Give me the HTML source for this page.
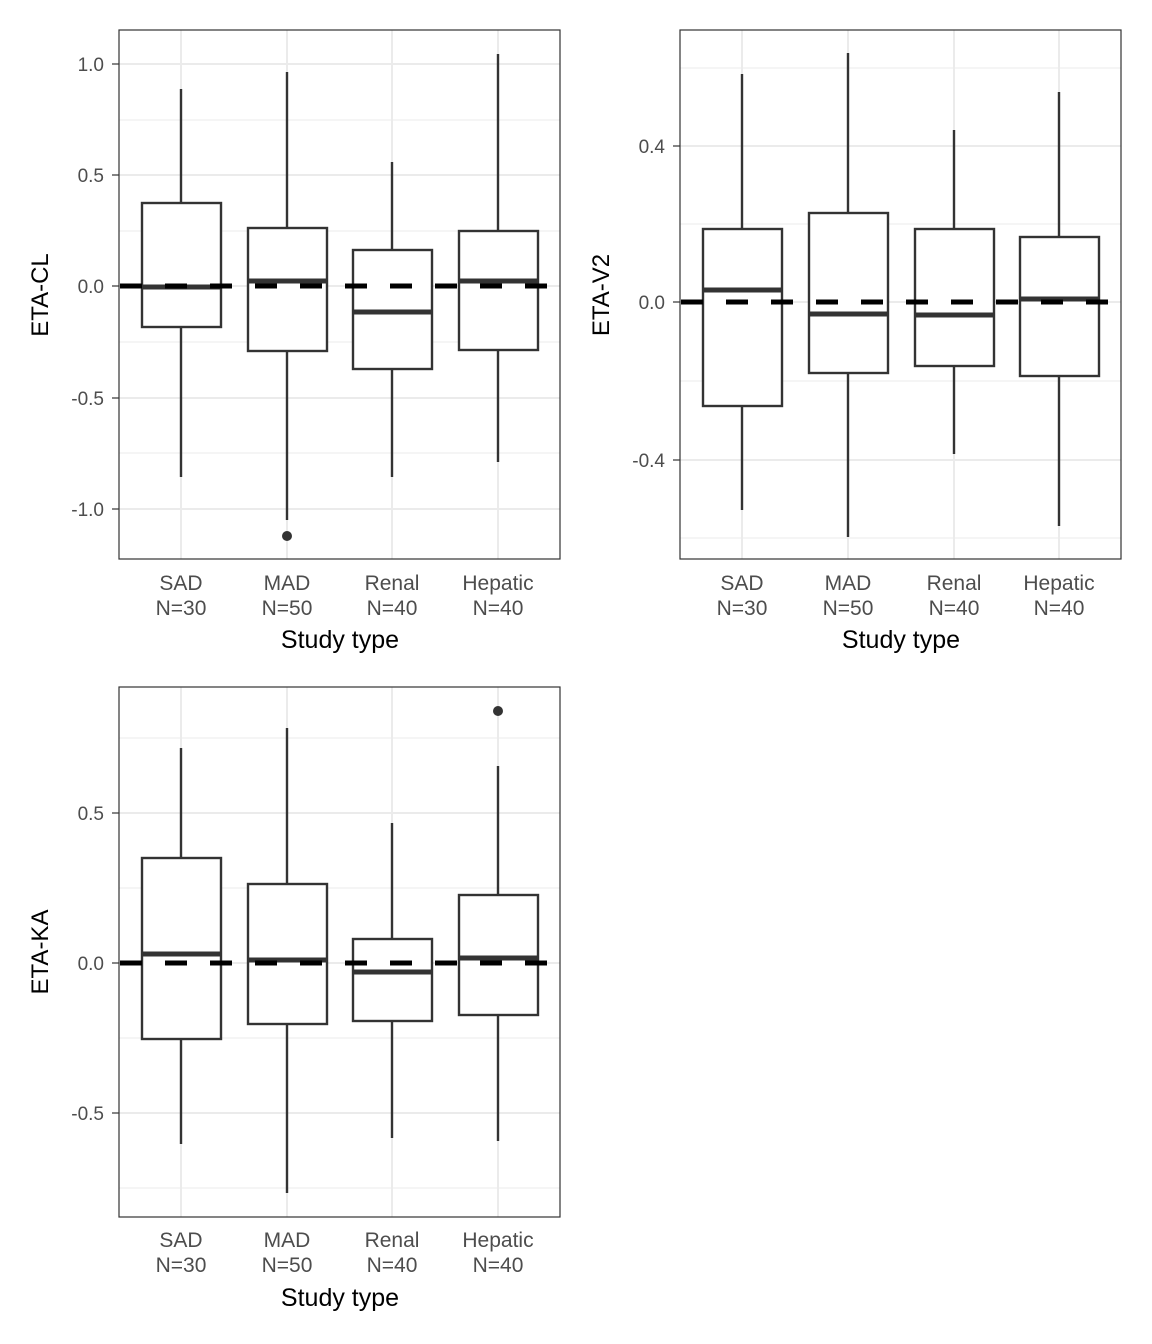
<!DOCTYPE html>
<html><head><meta charset="utf-8"><style>body{margin:0;background:#fff}svg{display:block}</style></head><body>
<svg width="1152" height="1344" xmlns="http://www.w3.org/2000/svg" font-family="Liberation Sans, DejaVu Sans, sans-serif">
<rect width="1152" height="1344" fill="#fff"/>
<g id="p1">
<g stroke="#ebebeb" stroke-width="1"><line x1="119" x2="560" y1="120" y2="120"/><line x1="119" x2="560" y1="231" y2="231"/><line x1="119" x2="560" y1="342" y2="342"/><line x1="119" x2="560" y1="453" y2="453"/></g>
<g stroke="#ebebeb" stroke-width="2"><line x1="119" x2="560" y1="64" y2="64"/><line x1="119" x2="560" y1="175" y2="175"/><line x1="119" x2="560" y1="286" y2="286"/><line x1="119" x2="560" y1="398" y2="398"/><line x1="119" x2="560" y1="509" y2="509"/>
<line x1="181" x2="181" y1="30" y2="559"/><line x1="287" x2="287" y1="30" y2="559"/><line x1="392" x2="392" y1="30" y2="559"/><line x1="498" x2="498" y1="30" y2="559"/></g>
<g stroke="#333" stroke-width="2.4" fill="#fff">
<line x1="181" x2="181" y1="89" y2="477"/><rect x="142" y="203" width="79" height="124"/>
<line x1="287" x2="287" y1="72" y2="520"/><rect x="248" y="228" width="79" height="123"/>
<line x1="392" x2="392" y1="162" y2="477"/><rect x="353" y="250" width="79" height="119"/>
<line x1="498" x2="498" y1="54" y2="462"/><rect x="459" y="231" width="79" height="119"/>
</g>
<g stroke="#333" stroke-width="5"><line x1="142" x2="221" y1="287" y2="287"/><line x1="248" x2="327" y1="281" y2="281"/><line x1="353" x2="432" y1="312" y2="312"/><line x1="459" x2="538" y1="281" y2="281"/></g>
<circle cx="287" cy="536" r="5" fill="#333"/>
<line x1="120" x2="560" y1="286" y2="286" stroke="#000" stroke-width="5" stroke-dasharray="22 23"/>
<rect x="119" y="30" width="441" height="529" fill="none" stroke="#333" stroke-width="1.2"/>
<g fill="#4d4d4d" font-size="19" text-anchor="end"><text x="104" y="71">1.0</text><text x="104" y="182">0.5</text><text x="104" y="293">0.0</text><text x="104" y="405">-0.5</text><text x="104" y="516">-1.0</text></g>
<g stroke="#333" stroke-width="1.2"><line x1="112" x2="119" y1="64" y2="64"/><line x1="112" x2="119" y1="175" y2="175"/><line x1="112" x2="119" y1="286" y2="286"/><line x1="112" x2="119" y1="398" y2="398"/><line x1="112" x2="119" y1="509" y2="509"/></g>
<g fill="#4d4d4d" font-size="21" text-anchor="middle"><text x="181" y="590">SAD</text><text x="181" y="615">N=30</text><text x="287" y="590">MAD</text><text x="287" y="615">N=50</text><text x="392" y="590">Renal</text><text x="392" y="615">N=40</text><text x="498" y="590">Hepatic</text><text x="498" y="615">N=40</text></g>
<text x="340" y="648" font-size="25" text-anchor="middle" fill="#000">Study type</text>
<text transform="translate(48,295) rotate(-90)" font-size="24" text-anchor="middle" fill="#000">ETA-CL</text>
</g>
<g id="p2">
<g stroke="#ebebeb" stroke-width="1"><line x1="680" x2="1121" y1="68" y2="68"/><line x1="680" x2="1121" y1="224" y2="224"/><line x1="680" x2="1121" y1="381" y2="381"/><line x1="680" x2="1121" y1="538" y2="538"/></g>
<g stroke="#ebebeb" stroke-width="2"><line x1="680" x2="1121" y1="146" y2="146"/><line x1="680" x2="1121" y1="302" y2="302"/><line x1="680" x2="1121" y1="460" y2="460"/>
<line x1="742" x2="742" y1="30" y2="559"/><line x1="848" x2="848" y1="30" y2="559"/><line x1="954" x2="954" y1="30" y2="559"/><line x1="1059" x2="1059" y1="30" y2="559"/></g>
<g stroke="#333" stroke-width="2.4" fill="#fff">
<line x1="742" x2="742" y1="74" y2="510"/><rect x="703" y="229" width="79" height="177"/>
<line x1="848" x2="848" y1="53" y2="537"/><rect x="809" y="213" width="79" height="160"/>
<line x1="954" x2="954" y1="130" y2="454"/><rect x="915" y="229" width="79" height="137"/>
<line x1="1059" x2="1059" y1="92" y2="526"/><rect x="1020" y="237" width="79" height="139"/>
</g>
<g stroke="#333" stroke-width="5"><line x1="703" x2="782" y1="290" y2="290"/><line x1="809" x2="888" y1="314" y2="314"/><line x1="915" x2="994" y1="315" y2="315"/><line x1="1020" x2="1099" y1="299" y2="299"/></g>
<line x1="681" x2="1121" y1="302" y2="302" stroke="#000" stroke-width="5" stroke-dasharray="22 23"/>
<rect x="680" y="30" width="441" height="529" fill="none" stroke="#333" stroke-width="1.2"/>
<g fill="#4d4d4d" font-size="19" text-anchor="end"><text x="665" y="153">0.4</text><text x="665" y="309">0.0</text><text x="665" y="467">-0.4</text></g>
<g stroke="#333" stroke-width="1.2"><line x1="673" x2="680" y1="146" y2="146"/><line x1="673" x2="680" y1="302" y2="302"/><line x1="673" x2="680" y1="460" y2="460"/></g>
<g fill="#4d4d4d" font-size="21" text-anchor="middle"><text x="742" y="590">SAD</text><text x="742" y="615">N=30</text><text x="848" y="590">MAD</text><text x="848" y="615">N=50</text><text x="954" y="590">Renal</text><text x="954" y="615">N=40</text><text x="1059" y="590">Hepatic</text><text x="1059" y="615">N=40</text></g>
<text x="901" y="648" font-size="25" text-anchor="middle" fill="#000">Study type</text>
<text transform="translate(609,295) rotate(-90)" font-size="24" text-anchor="middle" fill="#000">ETA-V2</text>
</g>
<g id="p3">
<g stroke="#ebebeb" stroke-width="1"><line x1="119" x2="560" y1="738" y2="738"/><line x1="119" x2="560" y1="888" y2="888"/><line x1="119" x2="560" y1="1038" y2="1038"/><line x1="119" x2="560" y1="1188" y2="1188"/></g>
<g stroke="#ebebeb" stroke-width="2"><line x1="119" x2="560" y1="813" y2="813"/><line x1="119" x2="560" y1="963" y2="963"/><line x1="119" x2="560" y1="1113" y2="1113"/>
<line x1="181" x2="181" y1="687" y2="1217"/><line x1="287" x2="287" y1="687" y2="1217"/><line x1="392" x2="392" y1="687" y2="1217"/><line x1="498" x2="498" y1="687" y2="1217"/></g>
<g stroke="#333" stroke-width="2.4" fill="#fff">
<line x1="181" x2="181" y1="748" y2="1144"/><rect x="142" y="858" width="79" height="181"/>
<line x1="287" x2="287" y1="728" y2="1193"/><rect x="248" y="884" width="79" height="140"/>
<line x1="392" x2="392" y1="823" y2="1138"/><rect x="353" y="939" width="79" height="82"/>
<line x1="498" x2="498" y1="766" y2="1141"/><rect x="459" y="895" width="79" height="120"/>
</g>
<g stroke="#333" stroke-width="5"><line x1="142" x2="221" y1="954" y2="954"/><line x1="248" x2="327" y1="960" y2="960"/><line x1="353" x2="432" y1="972" y2="972"/><line x1="459" x2="538" y1="958" y2="958"/></g>
<circle cx="498" cy="711" r="5" fill="#333"/>
<line x1="120" x2="560" y1="963" y2="963" stroke="#000" stroke-width="5" stroke-dasharray="22 23"/>
<rect x="119" y="687" width="441" height="530" fill="none" stroke="#333" stroke-width="1.2"/>
<g fill="#4d4d4d" font-size="19" text-anchor="end"><text x="104" y="820">0.5</text><text x="104" y="970">0.0</text><text x="104" y="1120">-0.5</text></g>
<g stroke="#333" stroke-width="1.2"><line x1="112" x2="119" y1="813" y2="813"/><line x1="112" x2="119" y1="963" y2="963"/><line x1="112" x2="119" y1="1113" y2="1113"/></g>
<g fill="#4d4d4d" font-size="21" text-anchor="middle"><text x="181" y="1247">SAD</text><text x="181" y="1272">N=30</text><text x="287" y="1247">MAD</text><text x="287" y="1272">N=50</text><text x="392" y="1247">Renal</text><text x="392" y="1272">N=40</text><text x="498" y="1247">Hepatic</text><text x="498" y="1272">N=40</text></g>
<text x="340" y="1306" font-size="25" text-anchor="middle" fill="#000">Study type</text>
<text transform="translate(48,952) rotate(-90)" font-size="24" text-anchor="middle" fill="#000">ETA-KA</text>
</g>
</svg>
</body></html>
